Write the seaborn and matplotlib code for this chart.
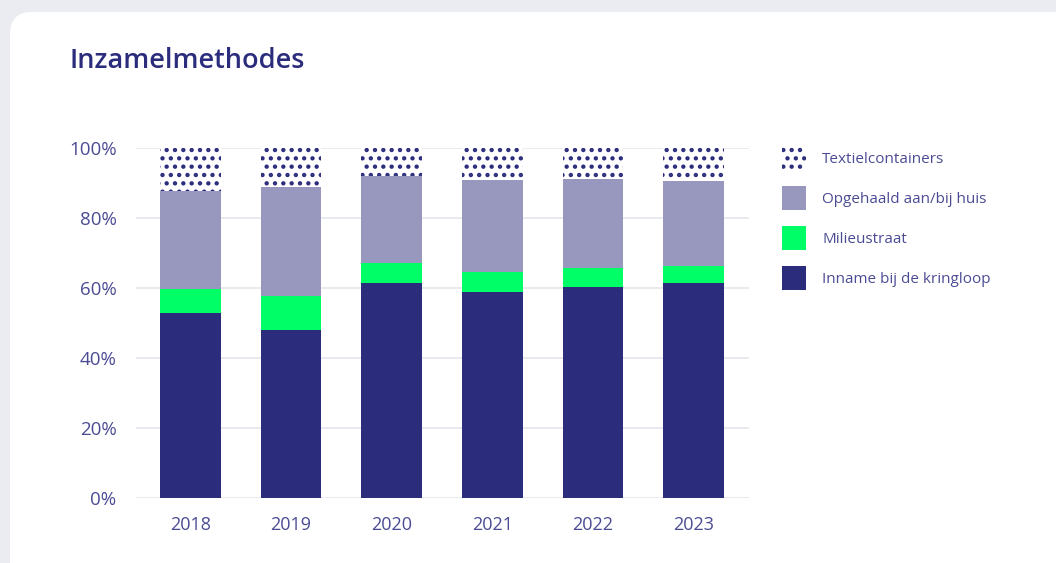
import pandas as pd
import numpy as np
import seaborn as sns
import matplotlib.pyplot as plt
from matplotlib.patches import FancyBboxPatch, Patch

years = ['2018', '2019', '2020', '2021', '2022', '2023']
inname = [52.8, 48.0, 61.4, 58.9, 60.4, 61.5]
milieustraat = [6.9, 9.8, 5.8, 5.8, 5.4, 4.9]
opgehaald = [28.1, 31.2, 24.9, 26.3, 25.5, 24.3]
textiel = [12.2, 11.0, 7.9, 9.0, 8.7, 9.3]

labels = ['Inname bij de kringloop', 'Milieustraat', 'Opgehaald aan/bij huis', 'Textielcontainers']
colors = ['#2b2c7c', '#00ff66', '#9897bd', 'white']

navy = '#2b2c7c'
txt = '#4b4b94'

sns.set_style('white')
plt.rcParams['font.family'] = ['Open Sans', 'DejaVu Sans']
plt.rcParams['hatch.color'] = navy
plt.rcParams['hatch.linewidth'] = 1.9

df = pd.DataFrame({'year': years, labels[0]: inname, labels[1]: milieustraat,
                   labels[2]: opgehaald, labels[3]: textiel})
cum = df[labels].cumsum(axis=1)
cum['year'] = years

fig = plt.figure(figsize=(10.56, 5.63), dpi=100)
fig.patch.set_facecolor('#ebebf2')
card = FancyBboxPatch((0.1, -0.5), 11.0, 6.01, boxstyle='round,pad=0,rounding_size=0.22',
                      transform=fig.dpi_scale_trans, facecolor='white', edgecolor='none', zorder=-5)
fig.patches.append(card)

ax = fig.add_axes([136 / 1056, 1 - 497.7 / 563, (749 - 136) / 1056, (497.7 - 148.3) / 563])
ax.set_facecolor('none')

# draw stacked bars from the top layer down so each lower layer covers the rest
for i in range(len(labels) - 1, -1, -1):
    kw = dict(hatch='..', edgecolor=navy, linewidth=0) if i == 3 else dict(linewidth=0)
    sns.barplot(data=cum, x='year', y=labels[i], color=colors[i], saturation=1,
                width=0.6, ax=ax, zorder=3, **kw)

ax.set_xlim(-0.54, 5.55)
ax.set_ylim(0, 100)
ax.set_yticks([0, 20, 40, 60, 80, 100])
ax.set_yticklabels([f'{v}%' for v in [0, 20, 40, 60, 80, 100]])
ax.yaxis.grid(True, color='#e4e6ee', linewidth=1.2, zorder=0)
ax.set_axisbelow(True)
for s in ax.spines.values():
    s.set_visible(False)
ax.tick_params(axis='y', length=0, pad=14, labelsize=13.5, labelcolor=txt)
ax.tick_params(axis='x', length=0, pad=13, labelsize=13, labelcolor=txt)
ax.set_xlabel('')
ax.set_ylabel('')

fig.text(70 / 1056, 1 - 61 / 563, 'Inzamelmethodes', fontsize=19.5, fontweight='semibold',
         color=navy, va='center', ha='left')

handles = [Patch(facecolor=colors[i], edgecolor=navy if i == 3 else colors[i],
                 hatch='..' if i == 3 else None, linewidth=0) for i in range(3, -1, -1)]
ax.legend(handles, [labels[i] for i in range(3, -1, -1)], loc='upper left',
          bbox_to_anchor=(782 / 1056, 1 - 146 / 563), bbox_transform=fig.transFigure,
          frameon=False, fontsize=11, labelcolor=txt, handlelength=1.57, handleheight=2.04,
          labelspacing=1.05, handletextpad=1.05, borderpad=0, borderaxespad=0)

fig.savefig('out.png', dpi=100, facecolor=fig.get_facecolor())
